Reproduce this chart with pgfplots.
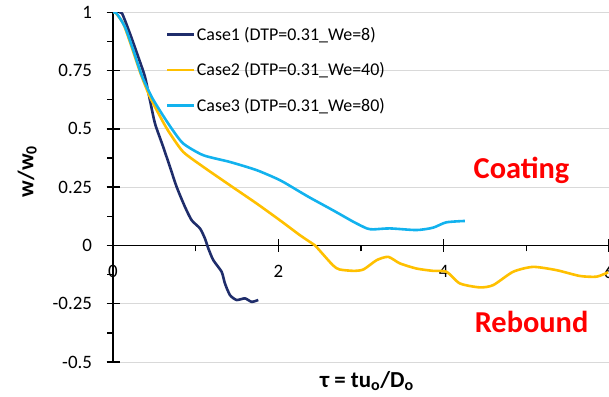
\documentclass[border=0pt]{standalone}
\usepackage{pgfplots}
\pgfplotsset{compat=1.18}
\usepackage{fontspec}
\setmainfont{Carlito}
\definecolor{cNavy}{HTML}{1F2D6B}
\definecolor{cGold}{HTML}{FFC000}
\definecolor{cCyan}{HTML}{12B2EE}
\definecolor{cGrid}{HTML}{D9D9D9}
\begin{document}
\begin{tikzpicture}[x=1bp,y=1bp]
\path[use as bounding box] (0,0) rectangle (609,396);
\begin{axis}[
  at={(113bp,34bp)}, anchor=south west,
  scale only axis, width=496bp, height=349.7bp,
  xmin=0, xmax=6, ymin=-0.5, ymax=1,
  axis lines=middle, axis line style={-, line width=1.4bp, black},
  hide obscured x ticks=false, hide obscured y ticks=false,
  clip=true,
  xtick={0,2,4,6}, xticklabels={0,2,4,6},
  minor x tick num=1,
  ytick={-0.5,-0.25,0,0.25,0.5,0.75,1},
  yticklabels={-0.5,-0.25,0,0.25,0.5,0.75,1},
  minor y tick num=1,
  tick align=center,
  major tick length=13bp, minor tick length=6bp,
  minor x tick style={yshift=-3bp},
  minor y tick style={xshift=-3bp},
  tick style={line width=1.4bp, black},
  ymajorgrids, grid style={cGrid, line width=1bp},
  ticklabel style={font=\fontsize{19}{22}\selectfont},
  xticklabel style={anchor=north, yshift=-10bp},
  yticklabel style={anchor=east, xshift=-11bp},
  xlabel={\textbf{τ = tu\textsubscript{o}/D\textsubscript{o}}},
  ylabel={\textbf{w/w\textsubscript{0}}},
  xlabel style={font=\fontsize{23}{27}\selectfont, at={(axis description cs:0.512,-0.054)}, anchor=center},
  ylabel style={font=\fontsize{22.5}{27}\selectfont, at={(axis description cs:-0.173,0.545)}, anchor=center, rotate=90},
  legend style={at={(axis description cs:0.106,0.963)}, anchor=north west,
    draw=none, fill=none, font=\fontsize{18}{21.5}\selectfont,
    row sep=18bp, inner sep=0pt, nodes={inner sep=1.5bp}},
  legend cell align=left,
  legend image code/.code={\draw[#1] (0bp,0bp) -- (27bp,0bp);},
  every axis plot/.append style={line width=2.6bp, smooth, tension=0.4},
]
\addplot[cNavy] coordinates {
(0.07,1.0) (0.11,0.995) (0.205,0.909) (0.306,0.808) (0.387,0.723) (0.447,0.623)
(0.508,0.523) (0.60,0.43) (0.689,0.337) (0.77,0.251) (0.871,0.165) (0.952,0.108)
(1.052,0.073) (1.112,0.030) (1.153,-0.013) (1.213,-0.063) (1.314,-0.113)
(1.354,-0.163) (1.415,-0.213) (1.496,-0.234) (1.596,-0.227) (1.677,-0.242) (1.757,-0.234)
};
\addlegendentry{Case1 (DTP=0.31\_We=8)}
\addplot[cGold] coordinates {
(0,1.0) (0.03,0.998) (0.125,0.951) (0.226,0.851) (0.327,0.744) (0.447,0.637)
(0.608,0.528) (0.689,0.48) (0.85,0.401) (1.092,0.337) (1.415,0.258) (1.737,0.18)
(2.019,0.108) (2.261,0.044) (2.42,0.006) (2.46,-0.006) (2.66,-0.085) (2.74,-0.103)
(2.91,-0.109) (3.03,-0.103) (3.19,-0.063) (3.33,-0.049) (3.47,-0.077) (3.67,-0.099)
(3.87,-0.109) (4.035,-0.113) (4.196,-0.163) (4.438,-0.18) (4.6,-0.17) (4.84,-0.113)
(5.08,-0.092) (5.365,-0.106) (5.647,-0.131) (5.85,-0.134) (5.99,-0.115)
};
\addlegendentry{Case2 (DTP=0.31\_We=40)}
\addplot[cCyan] coordinates {
(0,1.0) (0.044,0.995) (0.145,0.937) (0.246,0.837) (0.347,0.73) (0.468,0.637)
(0.60,0.56) (0.71,0.501) (0.85,0.437) (1.092,0.387) (1.415,0.358) (1.737,0.323)
(2.019,0.28) (2.261,0.23) (2.382,0.205) (2.66,0.151) (2.91,0.101) (3.07,0.073)
(3.15,0.069) (3.35,0.073) (3.67,0.066) (3.87,0.076) (4.03,0.099) (4.256,0.105)
};
\addlegendentry{Case3 (DTP=0.31\_We=80)}
\node[anchor=base, text=red, font=\fontsize{30.5}{36}\selectfont\bfseries] at (axis cs:4.942,0.287) {Coating};
\node[anchor=base, text=red, font=\fontsize{30.5}{36}\selectfont\bfseries] at (axis cs:5.063,-0.375) {Rebound};
\end{axis}
\end{tikzpicture}
\end{document}
